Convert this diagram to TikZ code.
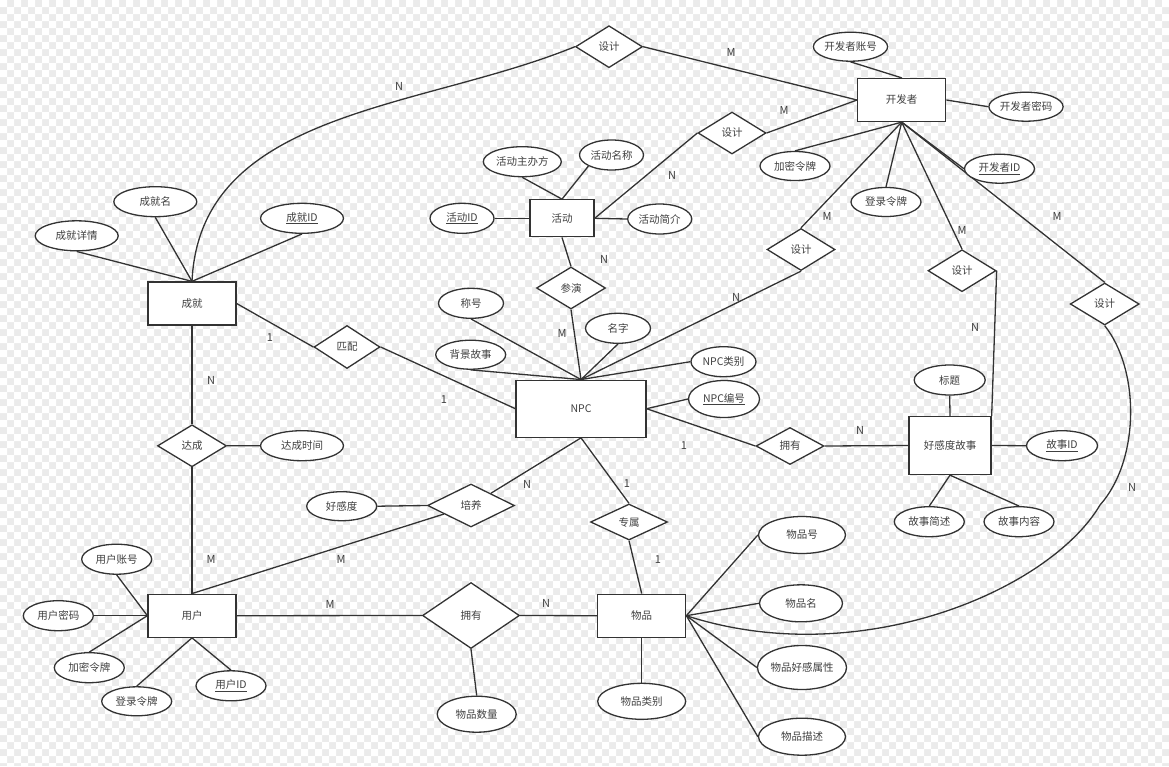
\documentclass[tikz,border=0pt]{standalone}
\usepackage{fontspec}
\setmainfont{Noto Sans CJK SC}
\usetikzlibrary{shapes.geometric}
\pgfdeclarelayer{back}\pgfdeclarelayer{mid}
\pgfsetlayers{back,mid,main}
\definecolor{ink}{HTML}{333333}
\definecolor{txt}{HTML}{404040}
\definecolor{chk}{HTML}{EBEBEB}

\begin{document}
\begin{tikzpicture}[x=1pt,y=-1pt,line width=1.3pt,draw=ink,text=txt,font=\fontsize{10.5}{12}\selectfont,
 ent/.style={draw=ink,line width=1.3pt,rectangle,fill=white,minimum width=88,minimum height=43,inner sep=0pt},
 attr/.style={draw=ink,line width=1.3pt,ellipse,fill=white,minimum width=70,minimum height=30,inner sep=0pt},
 rel/.style={draw=ink,line width=1.3pt,diamond,fill=white,minimum width=68,minimum height=42,inner sep=0pt},
 lbl/.style={font=\fontsize{11}{13}\selectfont},
 link/.style={line width=1.3pt,draw=ink}]
\useasboundingbox (0,0) rectangle (1169,766);
\begin{pgfonlayer}{back}
\clip (0,0) rectangle (1169,766);
\fill[chk] (0,0) rectangle (1169,766);
\foreach \j in {0,14,...,760} {\fill[white] \foreach \i in {0,14,...,1162} {(\i,\j) rectangle ++(7,7) (\i+7,\j+7) rectangle ++(7,7)};}
\end{pgfonlayer}

\node[ent] (dev) at (901.7,100) {开发者}; \node[ent,minimum width=64,minimum height=37] (act) at (562,218.3) {活动};
\node[ent] (ach) at (192,303.5) {成就}; \node[ent,minimum width=130,minimum height=57] (npc) at (581,408.7) {NPC};
\node[ent,minimum width=82,minimum height=58] (story) at (950,445.5) {好感度故事};
\node[ent] (user) at (192,615.7) {用户}; \node[ent] (item) at (641.7,615.7) {物品};

\node[rel,minimum width=67] (d1) at (609,46.7) {设计}; \node[rel] (d2) at (732,133) {设计};
\node[rel] (d3) at (801,249.5) {设计}; \node[rel] (d4) at (962,270.7) {设计};
\node[rel,minimum width=69] (d5) at (1104.7,304) {设计}; \node[rel,minimum width=69] (play) at (571,288) {参演};
\node[rel,minimum width=66,minimum height=43] (match) at (347,347) {匹配}; \node[rel,minimum width=69] (reach) at (192,445.8) {达成};
\node[rel,minimum width=87,minimum height=43] (train) at (471,505.5) {培养}; \node[rel,minimum width=77,minimum height=36] (own) at (629,522) {专属};
\node[rel,minimum height=37] (has1) at (790,446) {拥有}; \node[rel,minimum width=97,minimum height=66] (has2) at (471,615.5) {拥有};

\node[attr,minimum height=29] (devacc) at (850.5,46.7) {开发者账号}; \node[attr,minimum height=29] (devpwd) at (1026,106.7) {开发者密码};
\node[attr,minimum height=29] (devenc) at (795,166) {加密令牌}; \node[attr,minimum height=29] (devid) at (999.5,168.7) {\underline{开发者ID}};
\node[attr,minimum height=29] (devlog) at (886,202) {登录令牌};
\node[attr,minimum width=78] (acthost) at (522.3,161.7) {活动主办方}; \node[attr,minimum width=64] (actname) at (611.5,155) {活动名称};
\node[attr,minimum width=64] (actid) at (462,218.3) {\underline{活动ID}}; \node[attr,minimum width=64] (actinfo) at (659.7,219) {活动简介};
\node[attr,minimum width=83] (achname) at (155.3,201.7) {成就名}; \node[attr,minimum width=83] (achinfo) at (76.7,235.8) {成就详情};
\node[attr,minimum width=83] (achid) at (302,218.3) {\underline{成就ID}}; \node[attr,minimum width=83] (reachtime) at (302,445.7) {达成时间};
\node[attr,minimum height=29] (favor) at (341.7,506.2) {好感度};
\node[attr,minimum width=65] (title) at (471,303.3) {称号}; \node[attr,minimum height=29] (backst) at (470.7,354.7) {背景故事};
\node[attr,minimum width=65] (npcname) at (618,328.3) {名字}; \node[attr,minimum width=65] (npctype) at (723.5,361.7) {NPC类别};
\node[attr,minimum width=71,minimum height=37] (npcid) at (724,399) {\underline{NPC编号}};
\node[attr,minimum width=71] (stitle) at (949.7,380) {标题}; \node[attr,minimum width=71] (sid) at (1062,445.7) {\underline{故事ID}};
\node[attr] (sbrief) at (929.3,521.7) {故事简述}; \node[attr] (scont) at (1019,521.7) {故事内容};
\node[attr,minimum width=87,minimum height=37] (ino) at (802,535) {物品号}; \node[attr,minimum width=83,minimum height=37] (iname) at (801,603.3) {物品名};
\node[attr,minimum width=88,minimum height=44] (ifav) at (802,667.5) {物品好感属性}; \node[attr,minimum width=87,minimum height=37] (idesc) at (802,736.7) {物品描述};
\node[attr,minimum width=88,minimum height=36] (itype) at (641.7,701.3) {物品类别}; \node[attr,minimum width=79,minimum height=36] (icount) at (476.7,714.2) {物品数量};
\node[attr] (uacc) at (116.7,559.2) {用户账号}; \node[attr] (upwd) at (58.3,615.7) {用户密码};
\node[attr] (uenc) at (89.3,667.7) {加密令牌}; \node[attr,minimum height=29] (ulog) at (136.7,701.3) {登录令牌};
\node[attr] (uid) at (231,685.8) {\underline{用户ID}};

\node[lbl] (c1) at (399,86) {N}; \node[lbl] (c2) at (731,52) {M}; \node[lbl] (c3) at (784,110) {M};
\node[lbl] (c4) at (672,175) {N}; \node[lbl] (c5) at (827,216) {M}; \node[lbl] (c6) at (962,230) {M};
\node[lbl] (c7) at (1057,216) {M}; \node[lbl] (c8) at (604,259) {N}; \node[lbl] (c9) at (736,297) {N};
\node[lbl] (c10) at (975,327) {N}; \node[lbl] (c11) at (1132,487) {N}; \node[lbl] (c12) at (562,333) {M};
\node[lbl] (c13) at (270,338) {1}; \node[lbl] (c14) at (444,400) {1}; \node[lbl] (c15) at (211,380) {N};
\node[lbl] (c16) at (684,446) {1}; \node[lbl] (c17) at (860,430) {N}; \node[lbl] (c18) at (527,484) {N};
\node[lbl] (c19) at (627,484) {1}; \node[lbl] (c20) at (658,560) {1}; \node[lbl] (c21) at (211,559) {M};
\node[lbl] (c22) at (341,559) {M}; \node[lbl] (c23) at (330,604) {M}; \node[lbl] (c24) at (546,603) {N};

\begin{pgfonlayer}{mid}
\begin{scope}[link]
\draw (d1.east)--(dev.west); \draw (d2.east)--(dev.west); \draw (act.east)--(d2.west);
\draw (d1.west) .. controls (420,110) and (200,110) .. (ach.north);
\draw (dev.south)--(d3.north); \draw (dev.south)--(d4.north); \draw (dev.south)--(d5.north);
\draw (devacc.south)--(dev.north); \draw (dev.east)--(devpwd.west); \draw (dev.south)--(devenc.north);
\draw (dev.south)--(devlog.north); \draw (dev.south)--(devid.west);
\draw (acthost.south)--(act.north); \draw (actname.south west)--(act.north);
\draw (actid.east)--(act.west); \draw (act.east)--(actinfo.west);
\draw (act.south)--(play.north); \draw (play.south)--(npc.north);
\draw (title.south)--(npc.north); \draw (backst.south)--(npc.north); \draw (npcname.south)--(npc.north);
\draw (npctype.west)--(npc.north); \draw (d3.south)--(npc.north); \draw (npcid.west)--(npc.east);
\draw (npc.east)--(has1.west); \draw (has1.east)--(story.west);
\draw (stitle.south)--(story.north); \draw (story.east)--(sid.west);
\draw (story.south)--(sbrief.north); \draw (story.south)--(scont.north); \draw (d4.east)--(story.north east);
\draw (d5.south) .. controls (1140,370) and (1140,460) .. (1100,505) .. controls (1050,590) and (860,672) .. (item.east);
\draw (ach.east)--(match.west); \draw (match.east)--(npc.west);
\draw (achinfo.south)--(ach.north); \draw (achname.south)--(ach.north); \draw (achid.south)--(ach.north);
\draw (ach.south)--(reach.north); \draw (reach.east)--(reachtime.west); \draw (reach.south)--(user.north);
\draw (user.north)--(train); \draw (favor.east)--(train.west); \draw (npc.south)--(train);
\draw (npc.south)--(own.north); \draw (own.south)--(item.north);
\draw (user.east)--(has2.west); \draw (has2.east)--(item.west); \draw (has2.south)--(icount.north);
\draw (item.south)--(itype.north);
\draw (item.east)--(ino.west); \draw (item.east)--(iname.west); \draw (item.east)--(ifav.west); \draw (item.east)--(idesc.west);
\draw (uacc.south)--(user.west); \draw (upwd.east)--(user.west); \draw (uenc.north)--(user.west);
\draw (ulog.north)--(user.south); \draw (uid.north)--(user.south);
\end{scope}
\end{pgfonlayer}
\end{tikzpicture}
\end{document}
